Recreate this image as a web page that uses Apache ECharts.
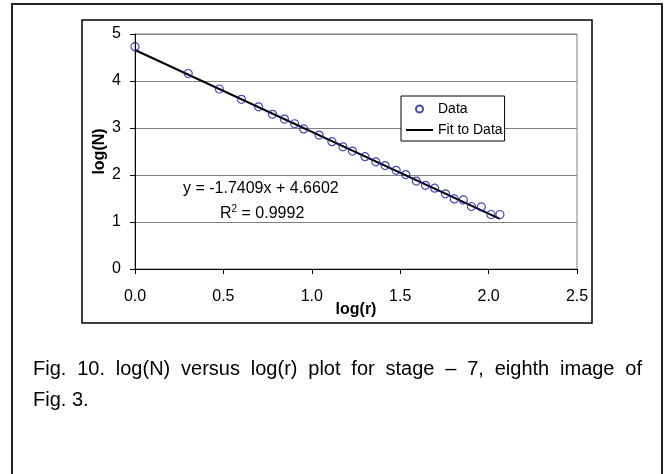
<!DOCTYPE html>
<html>
<head>
<meta charset="utf-8">
<script src="https://cdn.jsdelivr.net/npm/echarts@6/dist/echarts.min.js"></script>
<style>
  html, body { margin: 0; padding: 0; background: #fff; }
  #chart { width: 667px; height: 474px; }
</style>
</head>
<body>
<div id="chart"></div>
<script>
// log(r) and log(N) of the data points
var logR = [0, 0.301, 0.477, 0.602, 0.699, 0.778, 0.845, 0.903, 0.954, 1.041, 1.114, 1.176, 1.230, 1.301,
    1.362, 1.415, 1.477, 1.531, 1.591, 1.643, 1.695, 1.756, 1.806, 1.857, 1.903, 1.959, 2.013, 2.064];
var logN = [4.73, 4.16, 3.83, 3.61, 3.45, 3.29, 3.19, 3.09, 2.98, 2.85, 2.71, 2.60, 2.51, 2.39,
    2.28, 2.20, 2.10, 2.01, 1.87, 1.78, 1.72, 1.60, 1.49, 1.47, 1.33, 1.32, 1.16, 1.16];
// end points of the fitted line
var fitR = [0, 2.064];
var fitN = [4.6602, 1.067];
var xTicks = [0, 0.5, 1.0, 1.5, 2.0, 2.5];
var yTicks = [0, 1, 2, 3, 4, 5];

var eqText = 'y = -1.7409x + 4.6602';
var r2Text = '0.9992';
var caption1 = 'Fig. 10. log(N) versus log(r) plot for stage \u2013 7, eighth image of';
var caption2 = 'Fig. 3.';

var FONT = '"Liberation Sans", Arial, sans-serif';
var CAP_SIZE = 20;

// justify the first caption line word by word
function justifiedLine(text, x0, x1, y, size) {
    var ctx = document.createElement('canvas').getContext('2d');
    ctx.font = size + 'px ' + FONT;
    var words = text.split(' ');
    var widths = words.map(function (w) { return ctx.measureText(w).width; });
    var total = widths.reduce(function (a, b) { return a + b; }, 0);
    var gap = (x1 - x0 - total) / (words.length - 1);
    var out = [];
    var x = x0;
    words.forEach(function (w, i) {
        out.push({
            type: 'text', x: x, y: y,
            style: { text: w, fontSize: size, fontFamily: FONT, fill: '#000', textVerticalAlign: 'middle' }
        });
        x += widths[i] + gap;
    });
    return out;
}

var myChart = echarts.init(document.getElementById('chart'));

var graphics = [
    { type: 'rect', shape: { x: 12, y: 4, width: 650, height: 500 }, style: { fill: 'none', stroke: '#222', lineWidth: 2 }, z: -10 },
    { type: 'rect', shape: { x: 82, y: 20, width: 510, height: 303 }, style: { fill: 'none', stroke: '#000', lineWidth: 1.5 }, z: -10 },
    { type: 'text', x: 183, y: 189, style: { text: eqText, fontSize: 16, fontFamily: FONT, fill: '#000', textVerticalAlign: 'middle' } },
    {
        type: 'text', x: 220, y: 214,
        style: {
            text: 'R{sup|2} = ' + r2Text, fontSize: 16, fontFamily: FONT, fill: '#000', textVerticalAlign: 'middle',
            rich: { sup: { fontSize: 10, fontFamily: FONT, padding: [0, 0, 9, 0] } }
        }
    },
    { type: 'text', x: 33, y: 400, style: { text: caption2, fontSize: CAP_SIZE, fontFamily: FONT, fill: '#000', textVerticalAlign: 'middle' } }
].concat(justifiedLine(caption1, 33, 642, 369, CAP_SIZE));

var option = {
    animation: false,
    backgroundColor: '#fff',
    textStyle: { fontFamily: FONT },
    grid: {
        left: 135, right: 90, top: 34, bottom: 205,
        show: true, borderColor: '#808080', borderWidth: 1
    },
    legend: {
        orient: 'vertical',
        left: 401, top: 96,
        backgroundColor: '#fff',
        borderColor: '#000', borderWidth: 1,
        padding: [6, 2, 4, 4],
        itemGap: 7,
        itemWidth: 27, itemHeight: 7,
        textStyle: { fontSize: 14, fontFamily: FONT, color: '#000' },
        data: [
            { name: 'Data', icon: 'circle' },
            { name: 'Fit to Data', itemStyle: { opacity: 0 } }
        ]
    },
    xAxis: {
        type: 'value', min: 0, max: 2.5, interval: 0.5,
        name: 'log(r)', nameLocation: 'middle', nameGap: 33, nameMoveOverlap: false,
        nameTextStyle: { fontSize: 16, fontWeight: 'bold', color: '#000', fontFamily: FONT },
        axisLine: { lineStyle: { color: '#000', width: 1 } },
        axisTick: { show: true, length: 5, lineStyle: { color: '#000' } },
        axisLabel: {
            fontSize: 16, color: '#000', margin: 20,
            formatter: function (v) { return xTicks.indexOf(v) >= 0 ? v.toFixed(1) : ''; }
        },
        splitLine: { show: false }
    },
    yAxis: {
        type: 'value', min: 0, max: 5, interval: 1,
        name: 'log(N)', nameLocation: 'middle', nameGap: 27, nameRotate: 90, nameMoveOverlap: false,
        nameTextStyle: { fontSize: 16, fontWeight: 'bold', color: '#000', fontFamily: FONT },
        axisLine: { show: true, lineStyle: { color: '#000', width: 1 } },
        axisTick: { show: true, length: 5, lineStyle: { color: '#000' } },
        axisLabel: {
            fontSize: 16, color: '#000', margin: 14,
            formatter: function (v) { return yTicks.indexOf(v) >= 0 ? String(v) : ''; }
        },
        splitLine: { show: true, lineStyle: { color: '#808080', width: 1 } }
    },
    series: [{
        name: 'Data',
        type: 'scatter',
        symbol: 'circle',
        symbolSize: 8,
        data: logR.map(function (x, i) { return [x, logN[i]]; }),
        itemStyle: { color: 'rgba(0,0,0,0)', borderColor: '#1a1aa8', borderWidth: 1.2 },
        z: 3
    }, {
        name: 'Fit to Data',
        type: 'line',
        symbol: 'none',
        data: fitR.map(function (x, i) { return [x, fitN[i]]; }),
        lineStyle: { color: '#000', width: 2 },
        z: 2
    }],
    graphic: graphics
};

myChart.setOption(option);
window.addEventListener('resize', function () {
    myChart.resize();
});
</script>
</body>
</html>
